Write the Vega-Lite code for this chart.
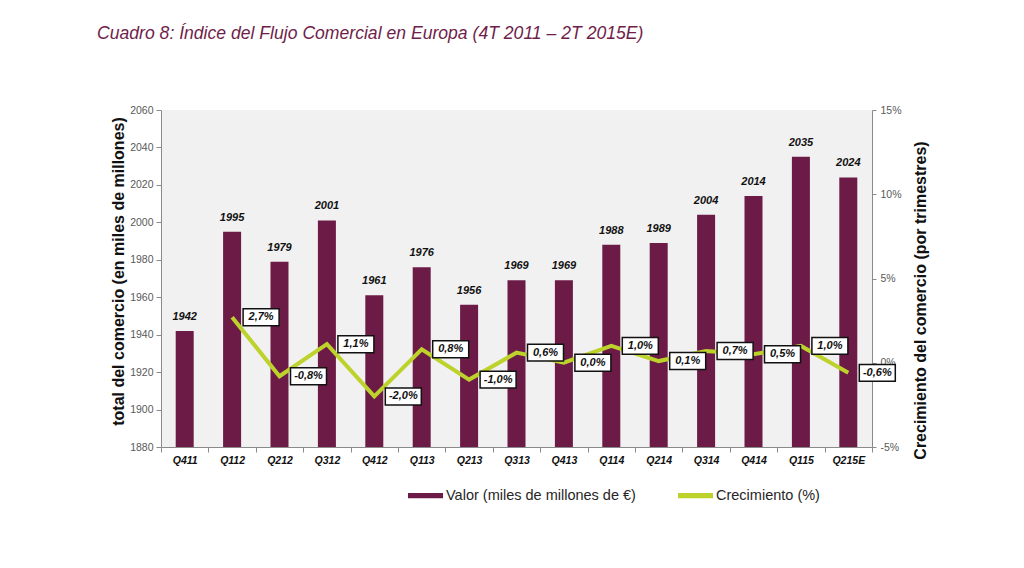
{
  "$schema": "https://vega.github.io/schema/vega-lite/v6.json",
  "width": 711,
  "height": 337,
  "autosize": {"type": "none"},
  "padding": {"left": 161, "top": 110, "right": 152, "bottom": 121},
  "background": "white",
  "config": {
    "font": "Liberation Sans",
    "view": {"fill": "#f1f1f1", "stroke": null}
  },
  "title": {
    "text": "Cuadro 8: Índice del Flujo Comercial en Europa (4T 2011 – 2T 2015E)",
    "anchor": "start",
    "frame": "group",
    "dx": -64,
    "offset": 62,
    "fontSize": 17.6,
    "fontStyle": "italic",
    "fontWeight": "normal",
    "color": "#6f1e4a"
  },
  "data": {
    "values": [
      {"q": "Q411", "v": 1942, "g": null, "gl": null},
      {"q": "Q112", "v": 1995, "g": 2.7, "gl": "2,7%"},
      {"q": "Q212", "v": 1979, "g": -0.8, "gl": "-0,8%"},
      {"q": "Q312", "v": 2001, "g": 1.1, "gl": "1,1%"},
      {"q": "Q412", "v": 1961, "g": -2.0, "gl": "-2,0%"},
      {"q": "Q113", "v": 1976, "g": 0.8, "gl": "0,8%"},
      {"q": "Q213", "v": 1956, "g": -1.0, "gl": "-1,0%"},
      {"q": "Q313", "v": 1969, "g": 0.6, "gl": "0,6%"},
      {"q": "Q413", "v": 1969, "g": 0.0, "gl": "0,0%"},
      {"q": "Q114", "v": 1988, "g": 1.0, "gl": "1,0%"},
      {"q": "Q214", "v": 1989, "g": 0.1, "gl": "0,1%"},
      {"q": "Q314", "v": 2004, "g": 0.7, "gl": "0,7%"},
      {"q": "Q414", "v": 2014, "g": 0.5, "gl": "0,5%"},
      {"q": "Q115", "v": 2035, "g": 1.0, "gl": "1,0%"},
      {"q": "Q215E", "v": 2024, "g": -0.6, "gl": "-0,6%"}
    ]
  },
  "encoding": {
    "x": {
      "field": "q",
      "type": "ordinal",
      "sort": null,
      "scale": {"paddingInner": 0, "paddingOuter": 0},
      "axis": {
        "title": null,
        "labelAngle": 0,
        "labelFontSize": 10.5,
        "labelFontWeight": "bold",
        "labelFontStyle": "italic",
        "labelColor": "#111111",
        "labelPadding": 3,
        "tickBand": "extent",
        "tickSize": 5,
        "tickColor": "#8a8a8a",
        "domainColor": "#8a8a8a"
      }
    }
  },
  "layer": [
    {
      "encoding": {
        "y": {
          "field": "v",
          "type": "quantitative",
          "scale": {"domain": [1880, 2060], "nice": false, "zero": false},
          "axis": {
            "orient": "left",
            "title": "total del comercio (en miles de millones)",
            "values": [1880, 1900, 1920, 1940, 1960, 1980, 2000, 2020, 2040, 2060],
            "format": "d",
            "grid": false,
            "labelFontSize": 10.5,
            "labelColor": "#595959",
            "labelPadding": 3,
            "tickSize": 5,
            "tickColor": "#8a8a8a",
            "domainColor": "#8a8a8a",
            "titleFontSize": 16,
            "titleFontWeight": "bold",
            "titleColor": "#111111",
            "titleAngle": -90,
            "titleBaseline": "middle",
            "titleX": -43,
            "titleY": 161
          }
        }
      },
      "layer": [
        {
          "mark": {"type": "bar", "size": 18, "clip": true},
          "encoding": {
            "color": {
              "datum": "Valor (miles de millones de €)",
              "type": "nominal",
              "scale": {
                "domain": ["Valor (miles de millones de €)", "Crecimiento (%)"],
                "range": ["#6c1b47", "#bdd22b"]
              },
              "legend": {
                "title": null,
                "orient": "none",
                "direction": "horizontal",
                "legendX": 247,
                "legendY": 368,
                "symbolType": "M-1,-0.15H1V0.15H-1Z",
                "symbolSize": 1225,
                "symbolStrokeWidth": 0,
                "labelFontSize": 14.5,
                "labelColor": "#262626",
                "labelOffset": 3,
                "labelLimit": 400,
                "columnPadding": 42
              }
            }
          }
        },
        {
          "mark": {
            "type": "text",
            "baseline": "bottom",
            "dy": -9,
            "fontSize": 11,
            "fontWeight": "bold",
            "fontStyle": "italic",
            "color": "#111111"
          },
          "encoding": {
            "text": {"field": "v", "type": "quantitative", "format": "d"}
          }
        }
      ]
    },
    {
      "transform": [{"filter": "datum.g != null"}],
      "encoding": {
        "y": {
          "field": "g",
          "type": "quantitative",
          "scale": {"domain": [-5, 15], "nice": false, "zero": false},
          "axis": {
            "orient": "right",
            "title": "Crecimiento del comercio (por trimestres)",
            "values": [-5, 0, 5, 10, 15],
            "labelExpr": "datum.value + '%'",
            "grid": false,
            "labelFontSize": 10.5,
            "labelColor": "#595959",
            "labelPadding": 4,
            "tickSize": 4,
            "tickColor": "#8a8a8a",
            "domainColor": "#8a8a8a",
            "titleFontSize": 16,
            "titleFontWeight": "bold",
            "titleColor": "#111111",
            "titleAngle": -90,
            "titleBaseline": "middle",
            "titleX": 48,
            "titleY": 190
          }
        }
      },
      "layer": [
        {
          "mark": {"type": "line", "color": "#bdd22b", "strokeWidth": 4}
        },
        {
          "mark": {
            "type": "point",
            "shape": "M-1,-0.47H1V0.47H-1Z",
            "size": 1296,
            "filled": true,
            "fill": "white",
            "stroke": "#111111",
            "strokeWidth": 1.5,
            "opacity": 1,
            "xOffset": 29
          }
        },
        {
          "mark": {
            "type": "text",
            "dx": 29,
            "align": "center",
            "baseline": "middle",
            "fontSize": 11,
            "fontWeight": "bold",
            "fontStyle": "italic",
            "color": "#111111"
          },
          "encoding": {"text": {"field": "gl", "type": "nominal"}}
        }
      ]
    }
  ],
  "resolve": {"scale": {"y": "independent"}}
}
